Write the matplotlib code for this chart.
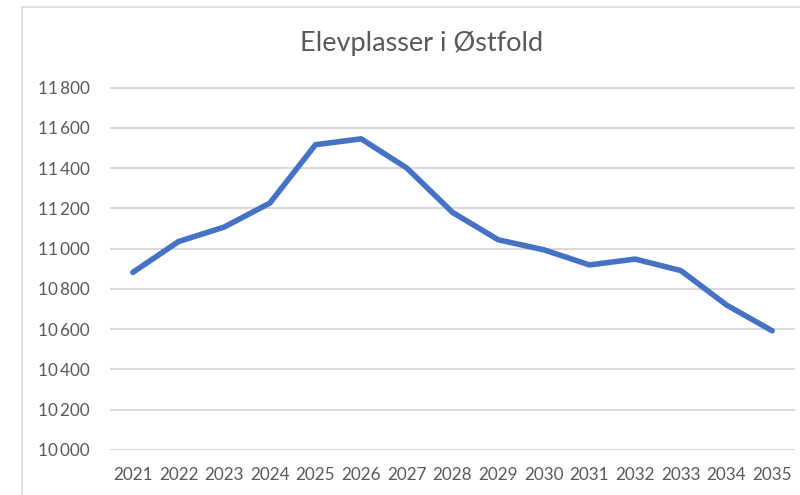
import matplotlib
matplotlib.use("Agg")
import matplotlib.pyplot as plt
from matplotlib.lines import Line2D
from matplotlib.ticker import FuncFormatter, MultipleLocator

years = [2021, 2022, 2023, 2024, 2025, 2026, 2027, 2028, 2029, 2030, 2031, 2032, 2033, 2034, 2035]
elevplasser = [10882, 11035, 11107, 11226, 11516, 11545, 11400, 11180, 11044, 10994, 10919, 10948, 10891, 10720, 10592]
title = "Elevplasser i Østfold"

plt.rcParams['font.family'] = ['Lato', 'DejaVu Sans']
txt = '#595959'
grid = '#D9D9D9'

fig = plt.figure(figsize=(8, 4.95), dpi=100)
ax = fig.add_axes([110/800, (495-450)/495, (795-110)/800, (450-87.5)/495])

ax.plot(years, elevplasser, color='#4472C4', lw=4.0, solid_joinstyle='round', solid_capstyle='round')

ax.set_xlim(years[0]-0.5, years[-1]+0.5)
ax.set_ylim(10000, 11800)
ax.yaxis.set_major_locator(MultipleLocator(200))
ax.set_xticks(years)
ax.set_xticklabels([str(y) for y in years])
ax.yaxis.set_major_formatter(FuncFormatter(lambda v, p: f"{int(v):,}".replace(",", "\u2009")))

ax.grid(axis='y', color=grid, lw=1.5)
ax.set_axisbelow(True)
for s in ax.spines.values():
    s.set_visible(False)
ax.tick_params(axis='both', length=0, colors=txt, labelsize=12.3)
ax.tick_params(axis='y', pad=14.5)
ax.tick_params(axis='x', pad=12)

fig.text(422/800, 1-44/495, title, ha='center', va='center', fontsize=19.5, color=txt)

# chart-area border
fig.add_artist(Line2D([22/800, 22/800], [0, 1-7/495], transform=fig.transFigure, color=grid, lw=1.2))
fig.add_artist(Line2D([22/800, 1], [1-7/495, 1-7/495], transform=fig.transFigure, color=grid, lw=1.2))

fig.savefig('out.png', dpi=100, facecolor='white')
